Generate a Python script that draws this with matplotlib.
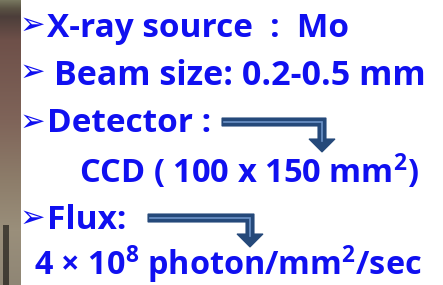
import numpy as np
import matplotlib.pyplot as plt
from matplotlib.patches import Polygon

plt.rcParams['mathtext.fontset'] = 'custom'
plt.rcParams['mathtext.rm'] = 'Open Sans:bold'
plt.rcParams['mathtext.it'] = 'Open Sans:bold'
plt.rcParams['mathtext.bf'] = 'Open Sans:bold'

# slide text lines: (x, baseline y, text, font size)
lines = [
    (47, 37, "X-ray source  :  Mo", 24),
    (54, 85, "Beam size: 0.2-0.5 mm", 24.5),
    (47, 132, "Detector :", 24),
    (79, 183, "CCD ( 100 x 150 mm$^{2}$)", 23.5),
    (47, 229, "Flux:", 24),
    (34, 275, "4 \u00d7 10$^{8}$ photon/mm$^{2}$/sec", 23.3),
]
bullet_y = [25, 72, 122, 218]

# bent arrows: x start, bar y, x of stem, tip y
arrows = [
    (222, 122, 322, 152),
    (148, 218, 250, 247),
]

# photo strip on the left, colours read top to bottom
strip_stops = [0, 8, 16, 40, 120, 180, 230, 285]
strip_cols = ["#77765f", "#5a5244", "#4c3e3a", "#6e5049", "#7f6459",
              "#8d7d6a", "#9a8f7b", "#8f8675"]

TEXT_BLUE = "#1010f0"
ARROW_DARK = "#25497a"
ARROW_LIGHT = "#6d93c8"

fig = plt.figure(figsize=(4.43, 2.85), dpi=100)
ax = fig.add_axes([0, 0, 1, 1])
ax.set_xlim(0, 443)
ax.set_ylim(285, 0)
ax.axis("off")

# strip
rgb = [tuple(int(c[i:i + 2], 16) / 255 for i in (1, 3, 5)) for c in strip_cols]
ys = np.arange(285)
col = np.array([np.interp(ys, strip_stops, [c[k] for c in rgb]) for k in range(3)]).T
img = np.repeat(col[:, None, :], 21, axis=1)
# dark vertical object near the bottom
img[225:, 3:9] = img[225:, 3:9] * 0.45
ax.imshow(img, extent=(0, 21, 285, 0), aspect="auto", zorder=1)

for x, y, s, fs in lines:
    ax.text(x, y, s, fontsize=fs, fontweight="bold", family="Open Sans",
            color=TEXT_BLUE, va="baseline", ha="left", zorder=3)

for y in bullet_y:
    ax.text(20, y, "\u27a2", fontsize=22, family="DejaVu Sans",
            color=TEXT_BLUE, va="center", ha="left", zorder=3)

for x0, yb, xs, tip in arrows:
    h = 4
    w = 4
    head = 13
    pts = [(x0, yb - h), (xs + w, yb - h), (xs + w, tip - head),
           (xs + head, tip - head), (xs, tip), (xs - head, tip - head),
           (xs - w, tip - head), (xs - w, yb + h), (x0, yb + h)]
    ax.add_patch(Polygon(pts, closed=True, facecolor=ARROW_DARK,
                         edgecolor=ARROW_DARK, lw=0.8, zorder=2))
    ax.plot([x0 + 2, xs, xs], [yb, yb, tip - head + 2], color=ARROW_LIGHT,
            lw=1.2, zorder=2.5, solid_joinstyle="miter")

fig.savefig("out.png", dpi=100)
